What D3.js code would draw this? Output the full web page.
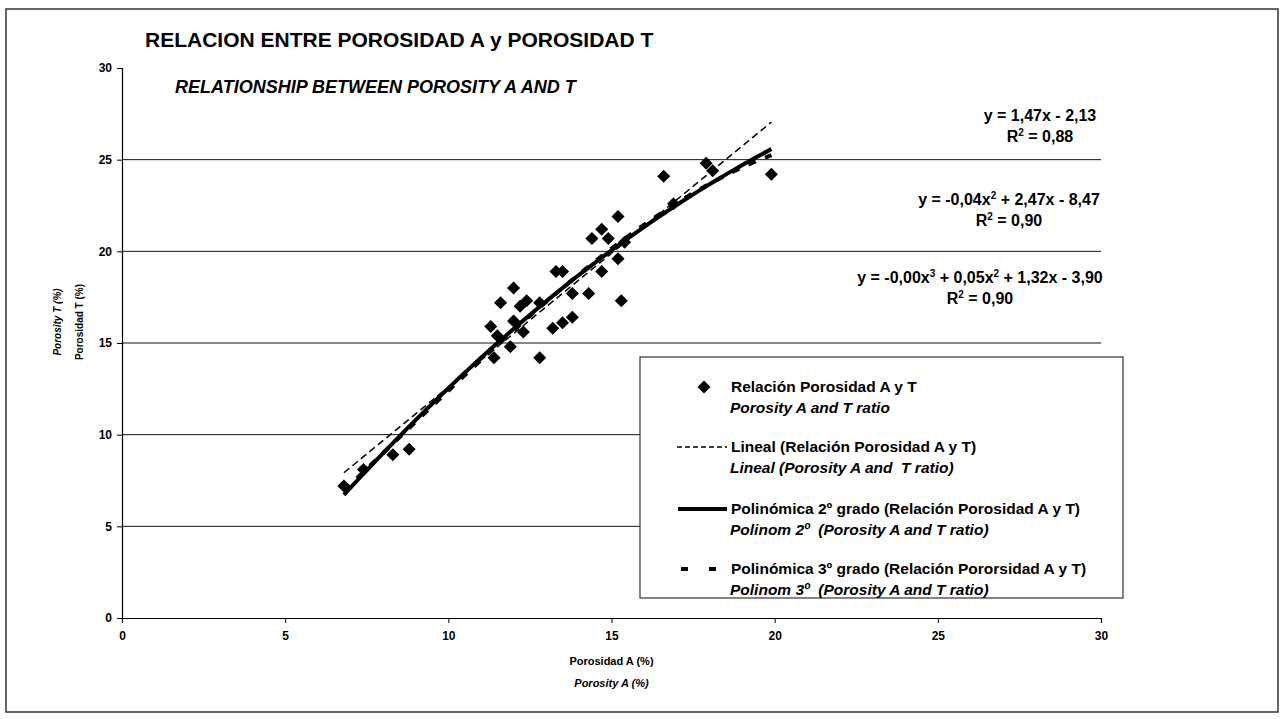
<!DOCTYPE html>
<html>
<head>
<meta charset="utf-8">
<script src="https://cdn.jsdelivr.net/npm/d3@7"></script>
<style>
  body { margin: 0; background: #fff; }
  text { font-family: "Liberation Sans", Arial, sans-serif; fill: #000; }
</style>
</head>
<body>
<div id="chart"></div>
<script>
// data
var porosityA = [6.8, 7.4, 8.3, 8.8, 11.4, 11.9, 11.3, 11.5, 12.0, 12.3, 11.6, 12.0,
    12.2, 12.4, 12.8, 12.8, 13.2, 13.5, 13.8, 13.3, 13.5, 13.8, 14.3, 14.7,
    15.3, 15.2, 14.7, 14.4, 14.9, 15.4, 15.2, 16.6, 17.9, 18.1, 19.9, 16.9];
var porosityT = [7.2, 8.1, 8.9, 9.2, 14.2, 14.8, 15.9, 15.4, 16.2, 15.6, 17.2, 18.0,
    17.0, 17.3, 17.2, 14.2, 15.8, 16.1, 16.4, 18.9, 18.9, 17.7, 17.7, 18.9,
    17.3, 19.6, 21.2, 20.7, 20.7, 20.5, 21.9, 24.1, 24.8, 24.4, 24.2, 22.6];
var xTicks = [0, 5, 10, 15, 20, 25, 30];
var yTicks = [0, 5, 10, 15, 20, 25, 30];

var svgWidth = 1285;
var svgHeight = 719;

var svg = d3.select("#chart")
    .append("svg")
    .attr("width", svgWidth)
    .attr("height", svgHeight);

// outer frame
svg.append("rect")
    .attr("x", 6).attr("y", 9)
    .attr("width", 1272).attr("height", 703)
    .attr("fill", "none")
    .attr("stroke", "#333")
    .attr("stroke-width", 1.5);

var x = d3.scaleLinear().domain([0, 30]).range([122, 1101]);
var y = d3.scaleLinear().domain([0, 30]).range([618, 68]);

// gridlines
svg.append("g")
    .selectAll("line")
    .data(yTicks.filter(d => d > 0 && d < 30))
    .enter()
    .append("line")
    .attr("x1", x(0)).attr("x2", x(30))
    .attr("y1", d => y(d)).attr("y2", d => y(d))
    .attr("stroke", "#111")
    .attr("stroke-width", 1);

// axes
var leftAxis = d3.axisLeft(y).tickValues(yTicks).tickSize(5).tickPadding(5);
var bottomAxis = d3.axisBottom(x).tickValues(xTicks).tickSize(5).tickPadding(8);

var yAxis = svg.append("g")
    .attr("transform", `translate(${x(0)}, 0)`)
    .call(leftAxis);

var xAxis = svg.append("g")
    .attr("transform", `translate(0, ${y(0)})`)
    .call(bottomAxis);

[xAxis, yAxis].forEach(function(ax) {
    ax.select(".domain").attr("stroke", "#000").attr("stroke-width", 1.2);
    ax.selectAll(".tick line").attr("stroke", "#000");
    ax.selectAll(".tick text")
        .style("font-family", "'Liberation Sans', Arial, sans-serif")
        .style("font-size", "12px")
        .style("font-weight", "bold")
        .attr("fill", "#000");
});

// least squares polynomial fit
function polyfit(xs, ys, deg) {
    var n = deg + 1;
    var A = [];
    for (var i = 0; i < n; i++) {
        A.push([]);
        for (var j = 0; j <= n; j++) A[i].push(0);
    }
    xs.forEach(function(xv, k) {
        for (var i = 0; i < n; i++) {
            for (var j = 0; j < n; j++) A[i][j] += Math.pow(xv, i + j);
            A[i][n] += ys[k] * Math.pow(xv, i);
        }
    });
    for (var c = 0; c < n; c++) {
        var p = c;
        for (var r = c + 1; r < n; r++) if (Math.abs(A[r][c]) > Math.abs(A[p][c])) p = r;
        var tmp = A[c]; A[c] = A[p]; A[p] = tmp;
        for (var r = 0; r < n; r++) {
            if (r === c) continue;
            var f = A[r][c] / A[c][c];
            for (var j = c; j <= n; j++) A[r][j] -= f * A[c][j];
        }
    }
    return A.map((row, i) => row[n] / row[i]);
}

function evalPoly(coef, xv) {
    return coef.reduce((s, c, i) => s + c * Math.pow(xv, i), 0);
}

var xMin = d3.min(porosityA);
var xMax = d3.max(porosityA);
var xs = d3.range(0, 101).map(i => xMin + (xMax - xMin) * i / 100);

var fits = [
    { deg: 1, width: 1.5, dash: "7,4" },
    { deg: 2, width: 4, dash: null },
    { deg: 3, width: 4, dash: "8,10" }
];

var line = d3.line()
    .x(d => x(d[0]))
    .y(d => y(d[1]));

// diamonds
var diamond = d3.symbol().type(d3.symbolSquare).size(85);

svg.append("g")
    .selectAll("path")
    .data(porosityA.map((d, i) => [d, porosityT[i]]))
    .enter()
    .append("path")
    .attr("d", diamond)
    .attr("transform", d => `translate(${x(d[0])}, ${y(d[1])}) rotate(45)`)
    .attr("fill", "#000");

fits.forEach(function(f) {
    var coef = polyfit(porosityA, porosityT, f.deg);
    svg.append("path")
        .datum(xs.map(v => [v, evalPoly(coef, v)]))
        .attr("d", line)
        .attr("fill", "none")
        .attr("stroke", "#000")
        .attr("stroke-width", f.width)
        .attr("stroke-dasharray", f.dash);
});

// titles
svg.append("text")
    .attr("x", 145).attr("y", 47)
    .style("font-size", "21px")
    .style("font-weight", "bold")
    .text("RELACION ENTRE POROSIDAD A y POROSIDAD T");

svg.append("text")
    .attr("x", 175).attr("y", 93)
    .style("font-size", "18px")
    .style("font-weight", "bold")
    .style("font-style", "italic")
    .text("RELATIONSHIP BETWEEN POROSITY A AND T");

// axis titles
var xMid = (x(0) + x(30)) / 2;
svg.append("text")
    .attr("x", xMid).attr("y", 665)
    .attr("text-anchor", "middle")
    .style("font-size", "11px")
    .style("font-weight", "bold")
    .text("Porosidad A (%)");
svg.append("text")
    .attr("x", xMid).attr("y", 687)
    .attr("text-anchor", "middle")
    .style("font-size", "11px")
    .style("font-weight", "bold")
    .style("font-style", "italic")
    .text("Porosity A (%)");

var yMid = 322;
svg.append("text")
    .attr("transform", `translate(61, ${yMid}) rotate(-90)`)
    .attr("text-anchor", "middle")
    .style("font-size", "10px")
    .style("font-weight", "bold")
    .style("font-style", "italic")
    .text("Porosity T (%)");
svg.append("text")
    .attr("transform", `translate(83, ${yMid}) rotate(-90)`)
    .attr("text-anchor", "middle")
    .style("font-size", "10px")
    .style("font-weight", "bold")
    .text("Porosidad T (%)");

// equations: [text, superscript] pieces
var equations = [
    { cx: 1040, y: 121, parts: [["y = 1,47x - 2,13", ""]], r2: "0,88" },
    { cx: 1009, y: 205, parts: [["y = -0,04x", "2"], [" + 2,47x - 8,47", ""]], r2: "0,90" },
    { cx: 980, y: 283, parts: [["y = -0,00x", "3"], [" + 0,05x", "2"], [" + 1,32x - 3,90", ""]], r2: "0,90" }
];

function writeParts(t, parts) {
    var shift = 0;
    parts.forEach(function(p) {
        t.append("tspan").attr("dy", -shift).text(p[0]);
        shift = 0;
        if (p[1]) {
            t.append("tspan").attr("dy", -6).style("font-size", "10px").text(p[1]);
            shift = -6;
        }
    });
}

equations.forEach(function(eq) {
    var t = svg.append("text")
        .attr("x", eq.cx).attr("y", eq.y)
        .attr("text-anchor", "middle")
        .style("font-size", "16px")
        .style("font-weight", "bold");
    writeParts(t, eq.parts);

    var r = svg.append("text")
        .attr("x", eq.cx).attr("y", eq.y + 21)
        .attr("text-anchor", "middle")
        .style("font-size", "16px")
        .style("font-weight", "bold");
    writeParts(r, [["R", "2"], [" = " + eq.r2, ""]]);
});

// legend
var legend = svg.append("g");
legend.append("rect")
    .attr("x", 640).attr("y", 357)
    .attr("width", 483).attr("height", 241)
    .attr("fill", "#fff")
    .attr("stroke", "#333")
    .attr("stroke-width", 1.2);

var legendItems = [
    { y: 387, es: "Relación Porosidad A y T", en: "Porosity A and T ratio" },
    { y: 447, es: "Lineal (Relación Porosidad A y T)", en: "Lineal (Porosity A and  T ratio)" },
    { y: 509, es: "Polinómica 2º grado (Relación Porosidad A y T)", en: "Polinom 2º  (Porosity A and T ratio)" },
    { y: 569, es: "Polinómica 3º grado (Relación Pororsidad A y T)", en: "Polinom 3º  (Porosity A and T ratio)" }
];

legendItems.forEach(function(it) {
    legend.append("text")
        .attr("x", 731).attr("y", it.y + 5)
        .style("font-size", "15.5px")
        .style("font-weight", "bold")
        .style("white-space", "pre")
        .text(it.es);
    legend.append("text")
        .attr("x", 730).attr("y", it.y + 26)
        .style("font-size", "15.5px")
        .style("font-weight", "bold")
        .style("font-style", "italic")
        .style("white-space", "pre")
        .text(it.en);
});

legend.append("path")
    .attr("d", diamond)
    .attr("transform", `translate(704, ${legendItems[0].y}) rotate(45)`)
    .attr("fill", "#000");

legend.append("line")
    .attr("x1", 677).attr("x2", 727)
    .attr("y1", legendItems[1].y).attr("y2", legendItems[1].y)
    .attr("stroke", "#000").attr("stroke-width", 1.5)
    .attr("stroke-dasharray", "5,3");

legend.append("line")
    .attr("x1", 678).attr("x2", 727)
    .attr("y1", legendItems[2].y).attr("y2", legendItems[2].y)
    .attr("stroke", "#000").attr("stroke-width", 4);

legend.append("line")
    .attr("x1", 681).attr("x2", 718)
    .attr("y1", legendItems[3].y).attr("y2", legendItems[3].y)
    .attr("stroke", "#000").attr("stroke-width", 4)
    .attr("stroke-dasharray", "7,21");
</script>
</body>
</html>
